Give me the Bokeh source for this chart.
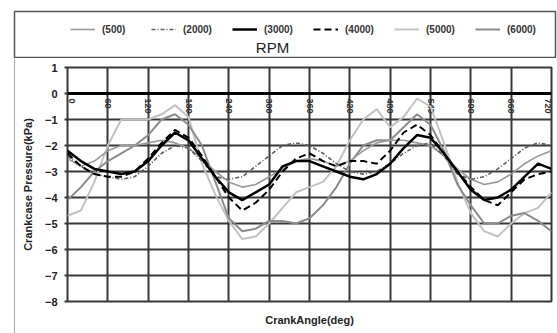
import math
from bokeh.plotting import figure
from bokeh.layouts import column, row
from bokeh.models import (Legend, LegendItem, Range1d, FixedTicker, Label, Span, ColumnDataSource)
from bokeh.core.properties import value
from bokeh.embed import file_html
from bokeh.resources import INLINE

angles = list(range(0, 721, 20))
rpm_names = [500, 2000, 3000, 4000, 5000, 6000]
rpm_500 = [-2.5, -2.8, -2.6, -2.2, -2.0, -2.0, -1.9, -1.8, -1.9, -2.1, -2.5, -3.0, -3.4, -3.6, -3.5, -3.2, -2.9, -2.6, -2.5,
           -2.6, -2.8, -2.6, -2.2, -1.9, -1.8, -1.8, -1.9, -2.0, -2.4, -2.9, -3.3, -3.5, -3.4, -3.1, -2.7, -2.4, -2.2]
rpm_2000 = [-2.4, -2.8, -3.1, -3.2, -3.3, -3.2, -2.8, -2.3, -2.0, -2.1, -2.6, -3.2, -3.3, -3.2, -2.8, -2.4, -2.0, -1.9, -2.0,
            -2.3, -2.7, -3.0, -3.1, -3.0, -2.7, -2.3, -2.0, -1.9, -2.4, -3.1, -3.3, -3.2, -2.9, -2.5, -2.1, -1.9, -2.0]
rpm_3000 = [-2.2, -2.6, -2.9, -3.0, -3.1, -3.0, -2.6, -2.0, -1.5, -1.8, -2.5, -3.2, -3.8, -4.1, -3.8, -3.5, -2.8, -2.6, -2.6,
            -2.8, -3.0, -3.2, -3.3, -3.1, -2.7, -2.1, -1.6, -1.7, -2.3, -3.0, -3.7, -4.1, -4.0, -3.7, -3.2, -2.7, -2.9]
rpm_4000 = [-2.3, -2.8, -3.1, -3.2, -3.2, -3.0, -2.5, -1.9, -1.4, -1.7, -2.4, -3.2, -4.0, -4.5, -4.2, -3.7, -3.0, -2.5, -2.3,
            -2.6, -2.8, -2.6, -2.6, -2.7, -2.2, -1.5, -1.2, -1.6, -2.3, -3.0, -3.6, -4.1, -4.3, -3.8, -3.3, -3.1, -3.0]
rpm_5000 = [-4.7, -4.5, -3.4, -2.0, -1.0, -1.0, -1.0, -0.8, -0.45, -0.9, -2.7, -3.9, -4.9, -5.6, -5.5, -5.0, -4.4, -3.8, -3.6,
            -3.4, -2.8, -1.8, -1.0, -0.6, -1.3, -0.9, -0.2, -0.5, -1.9, -3.4, -4.6, -5.3, -5.5, -5.0, -4.6, -4.4, -3.8]
rpm_6000 = [-4.1, -3.6, -3.0, -2.6, -2.3, -2.0, -1.6, -1.0, -0.8, -1.2, -2.0, -3.4, -4.8, -5.3, -5.2, -4.9, -4.9, -5.0, -4.8,
            -4.3, -3.6, -2.7, -2.0, -1.8, -1.8, -1.3, -0.8, -1.2, -2.2, -3.5, -4.3, -5.0, -5.0, -4.7, -4.6, -4.9, -5.3]

x_ticks = list(range(0, 721, 60))
x_tick_labels = [str(t) for t in x_ticks]
y_ticks = list(range(-8, 2))

FONT = "Liberation Sans"
W = 557
TOP_H = 58
BOT_H = 333 - TOP_H

styles = {
    500: dict(line_color="#9a9a9a", line_width=1.6),
    2000: dict(line_color="#5e5e5e", line_width=1.6, line_dash="4 2 1 2"),
    3000: dict(line_color="black", line_width=2.5),
    4000: dict(line_color="black", line_width=2, line_dash="7 4"),
    5000: dict(line_color="#c2c2c2", line_width=2),
    6000: dict(line_color="#8c8c8c", line_width=2),
}

src = ColumnDataSource(dict(a=angles, r500=rpm_500, r2000=rpm_2000, r3000=rpm_3000,
                            r4000=rpm_4000, r5000=rpm_5000, r6000=rpm_6000))

# ---------------- legend strip (its frame is the legend box) ----------------
LB_L, LB_R, LB_T, LB_B = 14, 555, 11, 57
top = figure(width=W, height=TOP_H, output_backend="svg", toolbar_location=None,
             x_range=Range1d(0, 1), y_range=Range1d(0, 1),
             x_axis_location=None, y_axis_location=None,
             min_border_left=LB_L, min_border_right=W - LB_R,
             min_border_top=LB_T, min_border_bottom=TOP_H - LB_B)
top.frame_align = False
top.grid.visible = False
top.outline_line_color = "#555555"
top.outline_line_width = 1.5
top.background_fill_color = "white"
top.border_fill_color = "white"

# same series drawn here (outside the strip's visible range) only to feed the legend
key_r = {r: top.line("a", f"r{r}", source=src, **styles[r]) for r in rpm_names}
items = [LegendItem(label=f"({r})", renderers=[key_r[r]]) for r in rpm_names]
legend = Legend(items=items, orientation="horizontal",
                location=(70 - LB_L, LB_B - 39),
                glyph_width=25, glyph_height=20, label_standoff=7, label_width=44,
                label_height=20, spacing=5, padding=0, margin=0,
                label_text_font=FONT, label_text_font_style="bold",
                label_text_font_size="10px", label_text_color="#333333",
                border_line_color=None, background_fill_alpha=0)
top.add_layout(legend)
top.add_layout(Label(x=272 - LB_L, y=LB_B - 47, x_units="screen", y_units="screen",
                     text="RPM", text_align="center", text_baseline="middle",
                     text_font=FONT, text_font_size="15px", text_color="#222222"))

# ---------------- thin strip: outer left border of the chart block ----------------
EDGE_W = 15
edge = figure(width=EDGE_W, height=BOT_H, output_backend="svg", toolbar_location=None,
              x_range=Range1d(0, 1), y_range=Range1d(0, 1),
              x_axis_location=None, y_axis_location=None,
              min_border_left=LB_L, min_border_right=0, min_border_top=0, min_border_bottom=0)
edge.frame_align = False
edge.grid.visible = False
edge.outline_line_color = None
edge.background_fill_color = "#555555"
edge.border_fill_color = "white"

# ---------------- main chart ----------------
PW = W - EDGE_W
FL, FR = 67 - EDGE_W, 551 - EDGE_W
FT, FB = 67 - TOP_H, 301 - TOP_H

p = figure(width=PW, height=BOT_H, output_backend="svg", toolbar_location=None,
           x_range=Range1d(0, 720), y_range=Range1d(-8, 1),
           min_border_left=FL, min_border_right=PW - FR, min_border_top=FT,
           min_border_bottom=BOT_H - FB)
p.frame_align = False
p.background_fill_color = "white"
p.border_fill_color = "white"
p.outline_line_color = "#383838"
p.outline_line_width = 2

p.xgrid.ticker = FixedTicker(ticks=x_ticks)
p.ygrid.ticker = FixedTicker(ticks=y_ticks)
for g in (p.xgrid, p.ygrid):
    g.grid_line_color = "#383838"
    g.grid_line_width = 2

p.xaxis.ticker = FixedTicker(ticks=[])
p.xaxis.axis_line_color = None
p.xaxis.major_tick_line_color = None
p.xaxis.minor_tick_line_color = None
p.xaxis.axis_label = "CrankAngle(deg)"
p.xaxis.axis_label_text_font = FONT
p.xaxis.axis_label_text_font_style = "bold"
p.xaxis.axis_label_text_font_size = "11px"
p.xaxis.axis_label_text_color = "#222222"
p.xaxis.axis_label_standoff = 12

p.yaxis.ticker = FixedTicker(ticks=y_ticks)
p.yaxis.axis_line_color = None
p.yaxis.major_tick_line_color = "#383838"
p.yaxis.major_tick_line_width = 2
p.yaxis.major_tick_out = 3
p.yaxis.major_tick_in = 0
p.yaxis.minor_tick_line_color = None
p.yaxis.major_label_text_font = FONT
p.yaxis.major_label_text_font_style = "bold"
p.yaxis.major_label_text_font_size = "11px"
p.yaxis.major_label_text_color = "#222222"
p.yaxis.major_label_standoff = 7
p.yaxis.axis_label = "Crankcase Pressure(kPa)"
p.yaxis.axis_label_text_font = FONT
p.yaxis.axis_label_text_font_style = "bold"
p.yaxis.axis_label_text_font_size = "11px"
p.yaxis.axis_label_text_color = "#222222"
p.yaxis.axis_label_standoff = 8

p.add_layout(Span(location=0, dimension="width", line_color="black", line_width=3))

# rotated crank-angle labels hanging below the zero line
edge_shift = [4] + [0] * (len(x_ticks) - 2) + [-4]
p.text(x=x_ticks, y=[0] * len(x_ticks), text=x_tick_labels, angle=-math.pi / 2,
       text_align="left", text_baseline="middle", y_offset=5, x_offset=edge_shift,
       text_font=value(FONT), text_font_style="bold", text_font_size="9px",
       text_color="#333333")

for r in [5000, 6000, 500, 2000, 4000, 3000]:
    p.line("a", f"r{r}", source=src, **styles[r])

lay = column(top, row(edge, p, spacing=0), spacing=0)
with open("out.html", "w") as f:
    f.write(file_html(lay, INLINE))
